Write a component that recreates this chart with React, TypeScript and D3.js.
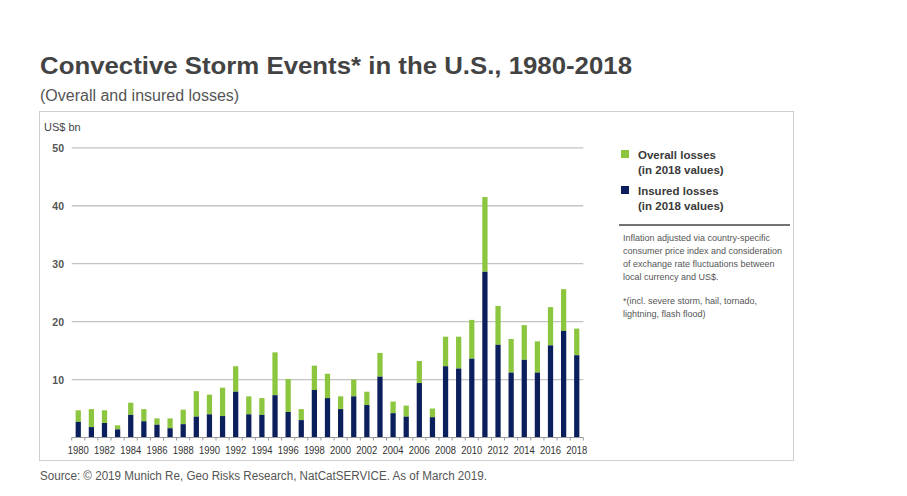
import React, { useEffect, useRef } from "react";
import * as d3 from "d3";

const years: number[] = [
  1980, 1981, 1982, 1983, 1984, 1985, 1986, 1987, 1988, 1989,
  1990, 1991, 1992, 1993, 1994, 1995, 1996, 1997, 1998, 1999,
  2000, 2001, 2002, 2003, 2004, 2005, 2006, 2007, 2008, 2009,
  2010, 2011, 2012, 2013, 2014, 2015, 2016, 2017, 2018,
];

const overallLosses: number[] = [
  4.7, 4.9, 4.7, 2.1, 6.0, 4.9, 3.3, 3.3, 4.8, 8.0,
  7.4, 8.6, 12.3, 7.1, 6.8, 14.7, 10.1, 4.9, 12.4, 11.0,
  7.1, 10.0, 7.9, 14.6, 6.2, 5.5, 13.2, 5.0, 17.4, 17.4,
  20.3, 41.5, 22.7, 17.0, 19.4, 16.6, 22.5, 25.6, 18.8,
];

const insuredLosses: number[] = [
  2.7, 1.8, 2.5, 1.4, 3.9, 2.8, 2.2, 1.6, 2.3, 3.6,
  4.0, 3.7, 7.9, 4.0, 3.9, 7.3, 4.4, 3.0, 8.2, 6.8,
  4.9, 7.1, 5.6, 10.5, 4.2, 3.6, 9.4, 3.5, 12.3, 11.9,
  13.6, 28.6, 16.0, 11.2, 13.4, 11.2, 15.9, 18.4, 14.2,
];

const yTicks: number[] = [10, 20, 30, 40, 50];
const xTickLabels: number[] = years.filter((y) => y % 2 === 0);

const legendItems = [
  { lines: ["Overall losses", "(in 2018 values)"], color: "#8cc63f" },
  { lines: ["Insured losses", "(in 2018 values)"], color: "#0b1f5c" },
];

const noteLines: string[] = [
  "Inflation adjusted via country-specific",
  "consumer price index and consideration",
  "of exchange rate fluctuations between",
  "local currency and US$.",
];
const footnoteLines: string[] = [
  "*(incl. severe storm, hail, tornado,",
  "lightning, flash flood)",
];

const GREEN = "#8cc63f";
const NAVY = "#0b1f5c";
const FONT = "'Liberation Sans', Arial, sans-serif";

export default function App() {
  const ref = useRef<SVGSVGElement | null>(null);

  useEffect(() => {
    const svg = d3.select(ref.current);
    svg.selectAll("*").remove();

    const x = d3
      .scaleBand<number>()
      .domain(years)
      .range([71.7, 583.3])
      .paddingInner(0.6)
      .paddingOuter(0.3);
    const y = d3.scaleLinear().domain([0, 50]).range([437.5, 147.8]);

    svg.append("rect").attr("width", 907).attr("height", 496).attr("fill", "#fff");

    // Title
    svg
      .append("text")
      .attr("x", 40)
      .attr("y", 74)
      .attr("font-family", FONT)
      .attr("font-weight", "bold")
      .attr("font-size", 24)
      .attr("fill", "#434343")
      .attr("textLength", 592)
      .attr("lengthAdjust", "spacingAndGlyphs")
      .text("Convective Storm Events* in the U.S., 1980-2018");

    svg
      .append("text")
      .attr("x", 40)
      .attr("y", 101)
      .attr("font-family", FONT)
      .attr("font-size", 16)
      .attr("fill", "#555")
      .text("(Overall and insured losses)");

    // Outer box
    svg
      .append("rect")
      .attr("x", 39.5)
      .attr("y", 111.5)
      .attr("width", 754)
      .attr("height", 349)
      .attr("fill", "none")
      .attr("stroke", "#cfcfcf")
      .attr("stroke-width", 1);

    // Unit label
    svg
      .append("text")
      .attr("x", 44)
      .attr("y", 131)
      .attr("font-family", FONT)
      .attr("font-size", 11)
      .attr("fill", "#444")
      .text("US$ bn");

    // Gridlines + y labels
    const g = svg.append("g");
    yTicks.forEach((t) => {
      g.append("line")
        .attr("x1", 71.7)
        .attr("x2", 583.3)
        .attr("y1", y(t))
        .attr("y2", y(t))
        .attr("stroke", "#c4c4c4")
        .attr("stroke-width", 1.3);
      g.append("text")
        .attr("x", 64)
        .attr("y", y(t) + 4)
        .attr("text-anchor", "end")
        .attr("font-family", FONT)
        .attr("font-size", 10.5)
        .attr("font-weight", "bold")
        .attr("fill", "#555")
        .text(String(t));
    });

    // Bars
    const bars = svg.append("g");
    years.forEach((yr, i) => {
      const bx = x(yr) as number;
      bars
        .append("rect")
        .attr("x", bx)
        .attr("width", x.bandwidth())
        .attr("y", y(overallLosses[i]))
        .attr("height", y(insuredLosses[i]) - y(overallLosses[i]))
        .attr("fill", GREEN);
      bars
        .append("rect")
        .attr("x", bx)
        .attr("width", x.bandwidth())
        .attr("y", y(insuredLosses[i]))
        .attr("height", y(0) - y(insuredLosses[i]))
        .attr("fill", NAVY);
    });

    // X axis line and ticks at band boundaries
    const ax = svg.append("g");
    ax.append("line")
      .attr("x1", 71.7)
      .attr("x2", 583.3)
      .attr("y1", y(0))
      .attr("y2", y(0))
      .attr("stroke", "#999")
      .attr("stroke-width", 1.2);
    const step = x.step();
    const gap = step - x.bandwidth();
    years.forEach((yr) => {
      const bx = (x(yr) as number) - gap / 2;
      ax.append("line")
        .attr("x1", bx)
        .attr("x2", bx)
        .attr("y1", y(0))
        .attr("y2", y(0) + 3)
        .attr("stroke", "#999");
    });
    const last = (x(years[years.length - 1]) as number) + x.bandwidth() + gap / 2;
    ax.append("line")
      .attr("x1", last)
      .attr("x2", last)
      .attr("y1", y(0))
      .attr("y2", y(0) + 3)
      .attr("stroke", "#999");

    xTickLabels.forEach((yr) => {
      ax.append("text")
        .attr("x", (x(yr) as number) + x.bandwidth() / 2)
        .attr("y", 454)
        .attr("text-anchor", "middle")
        .attr("font-family", FONT)
        .attr("font-size", 10)
        .attr("fill", "#333")
        .attr("textLength", 21)
        .attr("lengthAdjust", "spacingAndGlyphs")
        .text(String(yr));
    });

    // Legend
    const lg = svg.append("g");
    legendItems.forEach((item, i) => {
      const top = 150 + i * 36;
      lg.append("rect")
        .attr("x", 621)
        .attr("y", top)
        .attr("width", 8)
        .attr("height", 8)
        .attr("fill", item.color);
      item.lines.forEach((ln, j) => {
        lg.append("text")
          .attr("x", 638)
          .attr("y", top + 8.5 + j * 15)
          .attr("font-family", FONT)
          .attr("font-size", 11.5)
          .attr("font-weight", "bold")
          .attr("fill", "#3a3a3a")
          .text(ln);
      });
    });

    lg.append("line")
      .attr("x1", 619)
      .attr("x2", 790)
      .attr("y1", 225)
      .attr("y2", 225)
      .attr("stroke", "#444")
      .attr("stroke-width", 1.6);

    noteLines.forEach((ln, j) => {
      lg.append("text")
        .attr("x", 623)
        .attr("y", 241 + j * 13.1)
        .attr("font-family", FONT)
        .attr("font-size", 9)
        .attr("fill", "#555")
        .text(ln);
    });
    footnoteLines.forEach((ln, j) => {
      lg.append("text")
        .attr("x", 623)
        .attr("y", 304 + j * 12.7)
        .attr("font-family", FONT)
        .attr("font-size", 9)
        .attr("fill", "#555")
        .text(ln);
    });

    // Source
    svg
      .append("text")
      .attr("x", 40)
      .attr("y", 480)
      .attr("font-family", FONT)
      .attr("font-size", 12)
      .attr("fill", "#555")
      .attr("textLength", 447)
      .attr("lengthAdjust", "spacingAndGlyphs")
      .text("Source: © 2019 Munich Re, Geo Risks Research, NatCatSERVICE. As of March 2019.");
  }, []);

  return (
    <svg
      ref={ref}
      width={907}
      height={496}
      style={{ position: "absolute", left: 0, top: 0, display: "block" }}
    />
  );
}
